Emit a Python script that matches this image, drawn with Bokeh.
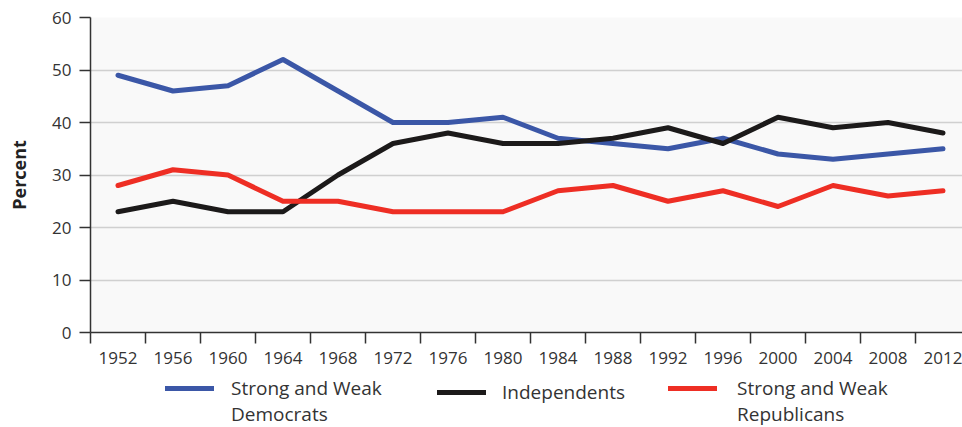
from bokeh.plotting import figure
from bokeh.layouts import column
from bokeh.models import (Range1d, FixedTicker, Legend, LegendItem)
from bokeh.embed import file_html
from bokeh.resources import INLINE

years = ["1952", "1956", "1960", "1964", "1968", "1972", "1976", "1980",
         "1984", "1988", "1992", "1996", "2000", "2004", "2008", "2012"]
democrats = [49, 46, 47, 52, 46, 40, 40, 41, 37, 36, 35, 37, 34, 33, 34, 35]
independents = [23, 25, 23, 23, 30, 36, 38, 36, 36, 37, 39, 36, 41, 39, 40, 38]
republicans = [28, 31, 30, 25, 25, 23, 23, 23, 27, 28, 25, 27, 24, 28, 26, 27]
y_ticks = [0, 10, 20, 30, 40, 50, 60]
series_names = [("Strong and Weak", "Democrats"), ("Independents",), ("Strong and Weak", "Republicans")]
series_values = [democrats, independents, republicans]
colors = ["#3b57a7", "#1c1a1a", "#ee2e24"]

FONT = "Open Sans"
TXT = "#333333"
W = 962
H1 = 375
H2 = 52
LEFT = 90
TOP = 17
FRAME_H = 315

idx = list(range(len(years)))
n = len(years)
px_per_cat = 55.0
x_end = -0.5 + (W - LEFT) / px_per_cat

p = figure(width=W, height=H1, output_backend="svg", toolbar_location=None,
           x_range=Range1d(-0.5, x_end), y_range=Range1d(0, 60),
           min_border_left=LEFT, min_border_right=0, min_border_top=TOP,
           min_border_bottom=H1 - TOP - FRAME_H)
p.outline_line_color = None
p.background_fill_color = "#f9f9f9"
p.border_fill_color = "white"

# x axis: labels at category centers, ticks at category boundaries
p.xaxis.ticker = FixedTicker(ticks=idx, minor_ticks=[i - 0.5 for i in range(n + 1)])
p.xaxis.major_label_overrides = {i: y for i, y in zip(idx, years)}
p.xaxis.major_tick_out = 0
p.xaxis.major_tick_in = 0
p.xaxis.minor_tick_out = 11
p.xaxis.minor_tick_in = 0
p.xaxis.minor_tick_line_color = "#333333"
p.xaxis.minor_tick_line_width = 1.5
p.xaxis.axis_line_color = "#333333"
p.xaxis.axis_line_width = 1.5
p.xaxis.major_label_standoff = 8
p.xaxis.major_label_text_font = FONT
p.xaxis.major_label_text_font_size = "17px"
p.xaxis.major_label_text_color = TXT
p.xgrid.grid_line_color = None

p.yaxis.ticker = FixedTicker(ticks=y_ticks)
p.yaxis.major_tick_out = 11
p.yaxis.major_tick_in = 0
p.yaxis.minor_tick_line_color = None
p.yaxis.major_tick_line_color = "#333333"
p.yaxis.major_tick_line_width = 1.5
p.yaxis.axis_line_color = "#333333"
p.yaxis.axis_line_width = 1.5
p.yaxis.major_label_standoff = 8
p.yaxis.major_label_text_font = FONT
p.yaxis.major_label_text_font_size = "17px"
p.yaxis.major_label_text_color = TXT
p.yaxis.axis_label = "Percent"
p.yaxis.axis_label_text_font = FONT
p.yaxis.axis_label_text_font_style = "bold"
p.yaxis.axis_label_text_font_size = "18px"
p.yaxis.axis_label_text_color = "#222222"
p.yaxis.axis_label_standoff = 18
p.ygrid.ticker = FixedTicker(ticks=y_ticks)
p.ygrid.grid_line_color = "#d0d0d0"
p.ygrid.grid_line_width = 1.5

lw = 5
for vals, c in zip(series_values, colors):
    p.line(idx, vals, line_color=c, line_width=lw, line_cap="round", line_join="round")

# legend strip (its ranges keep the key renderers out of view)
q = figure(width=W, height=H2, output_backend="svg", toolbar_location=None,
           x_range=Range1d(0, 1), y_range=Range1d(0, 1),
           min_border=0, x_axis_type=None, y_axis_type=None)
q.outline_line_color = None
q.grid.grid_line_color = None
q.background_fill_color = "white"
q.border_fill_color = "white"

keys = [q.line(idx, vals, line_color=c, line_width=lw, line_cap="round")
        for vals, c in zip(series_values, colors)]
blank = q.line(idx, democrats, line_alpha=0)

# legend placement in px within the strip frame (aligned with the chart frame)
leg_x = [75, 347, 578]
leg_y = [0, 22, 0]
leg_spacing = [-3, 0, -2]
leg_standoff = [17, 16, 20]
for names, key, lx, ly, sp, st in zip(series_names, keys, leg_x, leg_y, leg_spacing, leg_standoff):
    items = [LegendItem(label=names[0], renderers=[key])]
    for extra in names[1:]:
        items.append(LegendItem(label=extra, renderers=[blank]))
    lg = Legend(items=items, orientation="vertical", location=(lx, ly))
    lg.glyph_width = 49
    lg.glyph_height = 20
    lg.label_height = 20
    lg.label_standoff = st
    lg.spacing = sp
    lg.padding = 0
    lg.margin = 0
    lg.border_line_color = None
    lg.background_fill_alpha = 0
    lg.label_text_font = FONT
    lg.label_text_font_size = "19px"
    lg.label_text_color = TXT
    q.add_layout(lg)

layout = column(p, q, spacing=0)
open("out.html", "w").write(file_html(layout, INLINE))
